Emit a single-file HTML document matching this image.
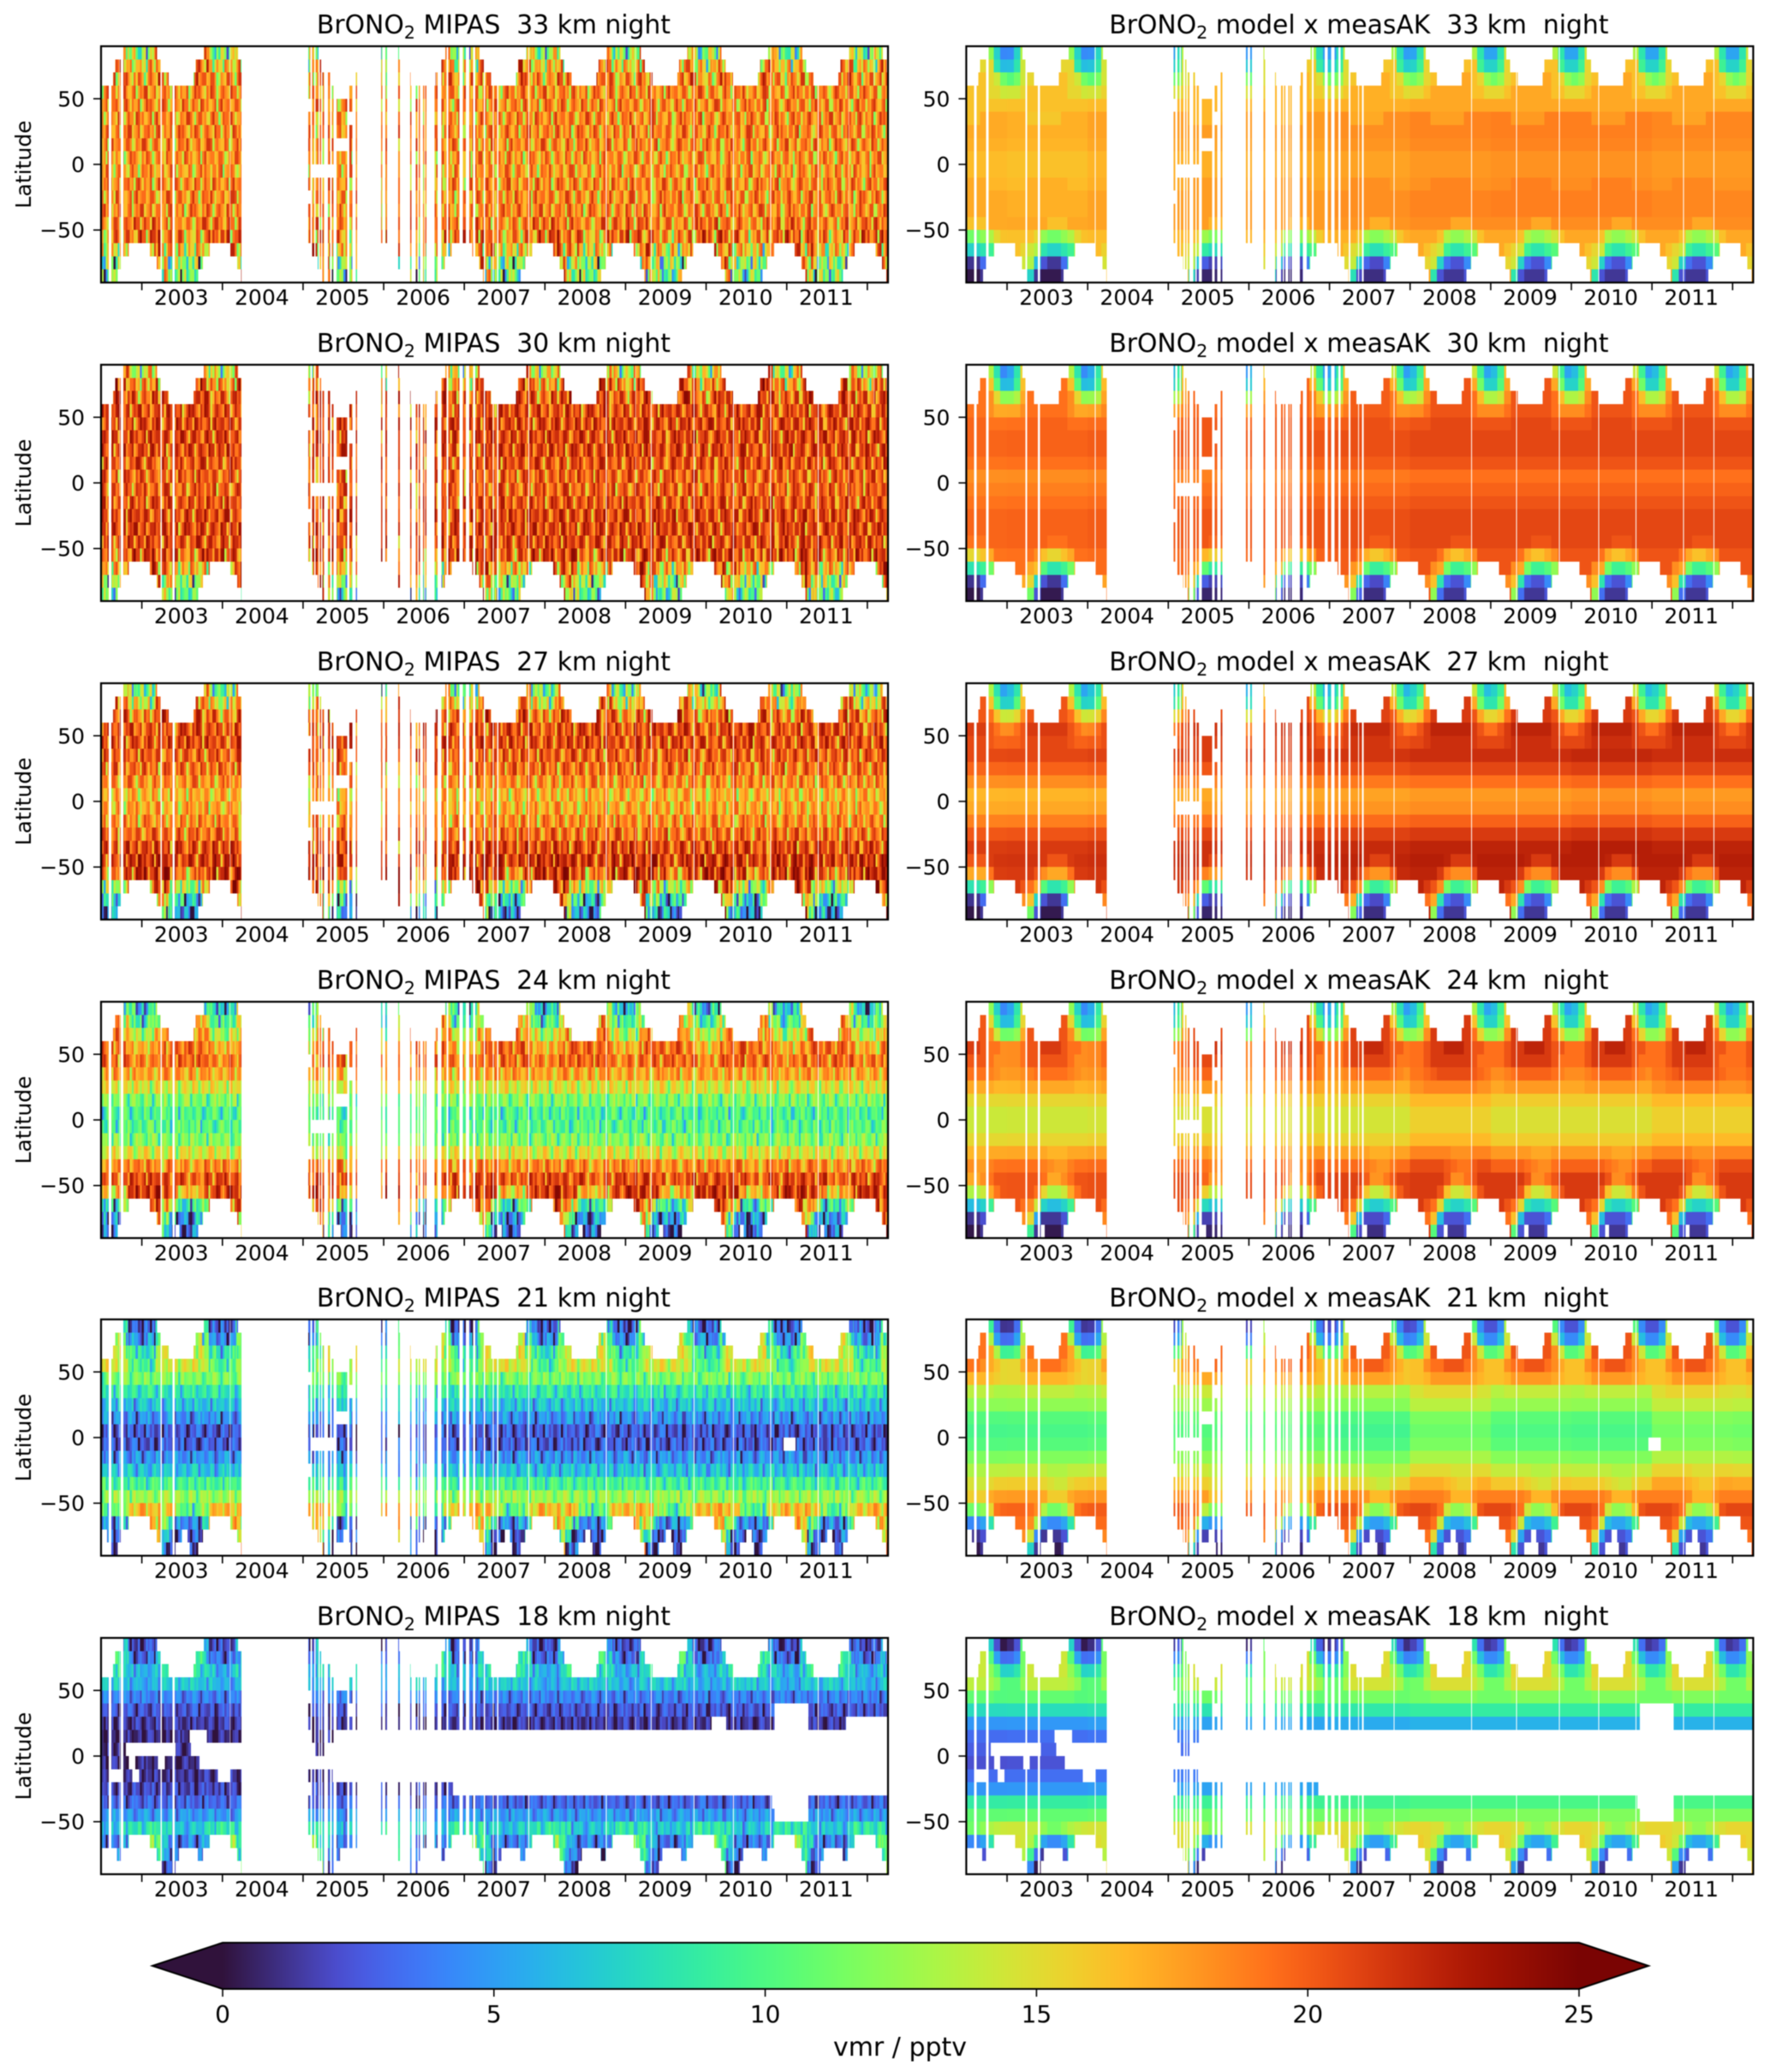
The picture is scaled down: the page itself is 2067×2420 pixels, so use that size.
<!DOCTYPE html>
<html lang="en">
<head>
<meta charset="utf-8">
<title>BrONO2 MIPAS vs model</title>
<style>
html,body{margin:0;padding:0;background:#fff;}
svg{display:block;font-family:"DejaVu Sans","Liberation Sans",sans-serif;fill:#000;filter:blur(0.5px);}
text{white-space:pre;}
.cells{shape-rendering:crispEdges;}
</style>
</head>
<body>
<svg id="figure" xmlns="http://www.w3.org/2000/svg" width="2067" height="2420" viewBox="0 0 2067 2420"></svg>
<script>
const altitudes=[33,30,27,24,21,18];
const yearTicks=[2003,2004,2005,2006,2007,2008,2009,2010,2011,2012];
const yearLabels=[2003,2004,2005,2006,2007,2008,2009,2010,2011];
const latTicks=[50,0,-50];
const colorbarTicks=[0,5,10,15,20,25];
const yearDrift=[-0.8,-0.7,-0.5,-0.3,-0.2,0,0.3,0.3,0.3,0.3,0.3];

/* model tropics (30N-30S band) offset per year 2002..2012, pptv */
const tropicsYear33=[0,-0.3,0,0,0,0.2,0.3,0.5,0.5,0.2,0.2];
const tropicsYear30=[0,0,0,0,0,0,0,0,0,0,0];
const tropicsYear27=[0,0,0,0,0,0,0,0,0.3,0,0];
const tropicsYear24=[0,0,0,0,0,-0.5,0.3,-0.5,-0.5,0.3,0.3];
const tropicsYear21=[0,0,0,0,0,-1,0.3,-0.8,-1,0.6,0.4];
const tropicsYear18=[0,0,0,0,0,0,0,0,0,0,0];

/* measurement periods, decimal years */
const obsSpans=[[2002.495,2002.59],[2002.624,2002.74],[2002.77,2003.23],[2003.25,2003.38],[2003.41,2004.09],[2004.1,2004.235],
[2005.067,2005.089],[2005.113,2005.14],[2005.156,2005.19],[2005.21,2005.226],[2005.24,2005.26],[2005.31,2005.335],[2005.355,2005.38],[2005.415,2005.546],[2005.574,2005.61],[2005.652,2005.67],
[2005.965,2005.986],[2006.018,2006.04],[2006.18,2006.2],[2006.326,2006.344],[2006.40,2006.42],[2006.435,2006.45],[2006.49,2006.505],[2006.515,2006.53],[2006.63,2006.67],[2006.716,2006.78],[2006.80,2006.94],[2006.98,2007.02],[2007.06,2007.11],
[2007.135,2007.24],[2007.26,2007.355],[2007.365,2007.405],[2007.425,2007.795],[2007.805,2008.755],[2008.765,2009.315],[2009.325,2009.845],[2009.855,2010.335],[2010.345,2010.795],[2010.805,2011.385],[2011.395,2011.765],[2011.775,2012.26]];

/* seasonal coverage per latitude row (north to south), fraction of year */
const rowSeason=[[0.77,1.19],[0.67,1.24],[0.64,1.33],null,null,null,null,null,null,null,null,null,null,null,null,[0.10,0.84],[0.18,0.76],[0.23,0.70]];

/* missing cells: [row, from, to] */
const commonGaps=[[9,2005.09,2005.41],[7,2005.415,2005.546],[3,2005.415,2005.546],[5,2005.574,2005.61],[4,2005.06,2005.09],[11,2005.06,2005.09]];
const gaps33=[];
const gaps30=[];
const gaps27=[];
const gaps24=[];
const gaps21=[[9,2010.96,2011.11]];
const gaps18=[[7,2003.59,2003.81],[7,2004.3,2005.1],[7,2005.39,2013],[8,2002.8,2003.42],[8,2003.61,2005.14],[8,2005.3,2013],[9,2002.84,2002.92],[9,2003.2,2003.28],[9,2003.72,2013],[10,2002.59,2002.76],[10,2002.88,2002.97],[10,2003.94,2004.1],[10,2005.37,2013],[11,2006.86,2013],[5,2010.85,2011.27],[6,2010.85,2011.27],[12,2010.82,2011.27],[13,2010.85,2011.27]];
const mipasGaps33=[];
const mipasGaps30=[];
const mipasGaps27=[];
const mipasGaps24=[];
const mipasGaps21=[];
const mipasGaps18=[[6,2010.07,2010.25],[6,2011.73,2013]];
/* seasonal holes in the polar core: [row, fromFraction, toFraction] */
const coreGaps33=[];
const coreGaps30=[];
const coreGaps27=[];
const coreGaps24=[[17,0.42,0.47]];
const coreGaps21=[[17,0.42,0.59],[16,0.5,0.57]];
const coreGaps18=[[17,0.42,0.72],[16,0.46,0.69]];

/* estimated retrieval scatter along time for the MIPAS panels, pptv */
const scatter=[1,2,2,-1,0,3,3,1,-4,-2,2,1,0,4,4,2,-1,-5,1,3,3,0,1,-2,-3,2,4,1,1,-6,-1,3,2,2,0,4,1,-3,0,0,2,3,-2,-1,1,4,4,3,-4,1,2,0,-1,-1,3,2,-5,-3,1,2,4,0,3,1,1,-2,2,2,-1,3,4,-6,0,1,1,3,2,-2,-4,-1,2,4,3,0,1,1,-3,2,3,3,-1,0,-5,2,1,4,2,1,-2,0,3,3,-4,-4,1,2,0,4,3,-1,2,1,-2,-6,1,3,4,0,2,2,-3,1,0,3,4,1,-1,-1,2,3,-5,0,2,1,4,4,-2,0,1,3,-3,-1,2,2,3,0,1,-4,3,4,1,-2,2,0,0,3,-6,-2,1,4,2,3,1,-1,-3,2,0,4,3,1,-5,-1,2,3,1,0,-2,4,2,2,-4,0,3,1,1,-3,4,3,0,2,-1,-1,1,3,-5,2,4,0];
const scatterRowLag=[0,17,41,5,29,61,13,83,37,101,23,71,7,53,97,31,113,47];
const scatterPanelLag=[0,3,7,11,19,29];
const scatterPanelGain=[1,0.9,0.9,0.75,0.6,0.45];
const scatterRowGain=[1.6,1.4,1.2,1,1,1,1,1,1,1,1,1,1,1,1.2,1.5,1.7,1.8];

/* monthly fields, Jan..Dec, rows 80-90N down to 80-90S, pptv */
const mipas33=[
[10,12,15,17,17,17,17,17,17,15,11,9],
[14,15,17,18,18,18,18,18,18,17,15,14],
[16,17,18,18,18,18,18,18,18,18,17,16],
[17.5,17.5,17.5,17.5,17.5,17.5,17.5,17.5,17.5,17.5,17.5,17.5],
[17.5,17.5,17.5,17.5,17.5,17.5,17.5,17.5,17.5,17.5,17.5,17.5],
[17.5,17.5,17.5,17.5,17.5,17.5,17.5,17.5,17.5,17.5,17.5,17.5],
[17.5,17.5,17.5,17.5,17.5,17.5,17.5,17.5,17.5,17.5,17.5,17.5],
[17.5,17.5,17.5,17.5,17.5,17.5,17.5,17.5,17.5,17.5,17.5,17.5],
[17,17,17,17,17,17,17,17,17,17,17,17],
[17,17,17,17,17,17,17,17,17,17,17,17],
[17.5,17.5,17.5,17.5,17.5,17.5,17.5,17.5,17.5,17.5,17.5,17.5],
[17.5,17.5,17.5,17.5,17.5,17.5,17.5,17.5,17.5,17.5,17.5,17.5],
[17.5,17.5,17.5,17.5,17.5,17.5,17.5,17.5,17.5,17.5,17.5,17.5],
[18.5,18.5,18.5,18,18,17,17,17,18,18,18.5,18.5],
[19,19,19,18,18,17,16,16,17,18,18,19],
[18,18,17,17,16,14,14,14,14,15,16,18],
[18,18,16,14,12,10,10,10,10,12,16,18],
[18,18,16,13,10,9,8,9,10,16,18,18]];
const mipas30=[
[12,14,17,19,19,19,19,19,19,17,13,11],
[16,17,19,20,20,20,20,20,20,19,17,16],
[18,19,20,20,20,20,20,20,20,20,19,18],
[19.5,19.5,19.5,20,20,20,20,20,20,20,19.5,19.5],
[20,20,20,20,20,20,20,20,20,20,20,20],
[20,20,20,20,20,20,20,20,20,20,20,20],
[20,20,20,20,20,20,20,20,20,20,20,20],
[19.5,19.5,19.5,19.5,19.5,19.5,19.5,19.5,19.5,19.5,19.5,19.5],
[19,19,19,19,19,19,19,19,19,19,19,19],
[19,19,19,19,19,19,19,19,19,19,19,19],
[19.5,19.5,19.5,19.5,19.5,19.5,19.5,19.5,19.5,19.5,19.5,19.5],
[20,20,20,20,20,20,20,20,20,20,20,20],
[20,20,20,20,20,20,20,20,20,20,20,20],
[20,20,20,20,20,20,19.5,19.5,20,20,20,20],
[20,20,20,20,20,19,18,18,19,20,20,20],
[19,19,19,18,17,15,15,15,15,16,18,19],
[19,19,18,16,13,11,10,10,11,14,19,19],
[19,19,19,14,10,8,8,8,9,19,19,19]];
const mipas27=[
[9,11,16,18,18,18,18,18,18,15,11,8],
[13,14,17,19,19,19,19,19,19,17,14,13],
[17,18,19,20,20,20,20,20,20,19,18,17],
[19,19.5,19.5,20,20,20,20,20,20,19.5,19.5,19],
[19.5,19.5,20,20,20,20,20,20,20,20,19.5,19.5],
[19,19,19,19,19,19,19,19,19,19,19,19],
[18.5,18.5,18.5,18.5,18.5,18.5,18.5,18.5,18.5,18.5,18.5,18.5],
[17.5,17.5,17.5,17.5,17.5,17.5,17.5,17.5,17.5,17.5,17.5,17.5],
[16,16,16,16,16,16,16,16,16,16,16,16],
[16.5,16.5,16.5,16.5,16.5,16.5,16.5,16.5,16.5,16.5,16.5,16.5],
[17.5,17.5,17.5,17.5,17.5,17.5,17.5,17.5,17.5,17.5,17.5,17.5],
[18.5,18.5,18.5,18.5,18.5,18.5,18.5,18.5,18.5,18.5,18.5,18.5],
[20,20,20,20,20,20,19.5,19.5,19.5,20,20,20],
[21,21,21,21,21,21,20,20,20,21,21,21],
[21,21,21,21,20.5,19,17,17,18,19,20.5,21],
[20,20,19,18,15,12,11,11,12,14,18,20],
[20,20,17,13,8,6,5,5,7,11,20,20],
[20,20,20,9,4,3,2,2,4,20,20,20]];
const mipas24=[
[5,7,12,16,16,16,16,16,16,11,7,4],
[8,9,13,17,17,17,17,17,17,14,10,8],
[12,13,16,18,18,18,18,18,18,16,14,12],
[16,16,18,19,19,19,19,19,19,18,17,16],
[18,18,19,19,19,19,19,19,19,19,18,18],
[16.5,16.5,17,17,17,17,17,17,17,17,16.5,16.5],
[14,14,14,14,14,14,14,14,14,14,14,14],
[11,11,11,11,11,11,11,11,11,11,11,11],
[9,9,9,9,9,9,9,9,9,9,9,9],
[9.5,9.5,9.5,9.5,9.5,9.5,9.5,9.5,9.5,9.5,9.5,9.5],
[11,11,11,11,11,11,11,11,11,11,11,11],
[14,14,14,14,14,14,14,14,14,14,14,14],
[18,18,18,18,18,18,17,17,17,18,18,18],
[20,20,20,20,20,20,19,19,19,20,20,20],
[21,21,21,21,20,17,15,15,16,18,20,21],
[20,20,19,17,13,8,7,7,8,11,18,20],
[20,20,17,11,5,3,3,3,4,8,20,20],
[20,20,20,6,2,1,1,1,2,20,20,20]];
const mipas21=[
[1,2,8,12,12,12,12,12,12,7,2,1],
[3,4,9,13,13,13,13,13,13,9,4,3],
[7,8,11,14,14,14,14,14,14,12,9,7],
[9,9,12,14,14,14,14,14,14,13,10,9],
[11,11,11,11,11,11,11,11,11,11,11,11],
[8,8,8,8,8,8,8,8,8,8,8,8],
[6,6,6,6,6,6,6,6,6,6,6,6],
[4,4,4,4,4,4,4,4,4,4,4,4],
[2,2,2,2,2,2,2,2,2,2,2,2],
[2,2,2,2,2,2,2,2,2,2,2,2],
[4,4,4,4,4,4,4,4,4,4,4,4],
[6,6,6,6,6,6,6,6,6,6,6,6],
[9,9,9,9,9,9,9,9,9,9,9,9],
[12,12,12,12,12,12,12,12,12,12,12,12],
[16,16,16,16,15,11,9,9,10,13,15,16],
[16,16,15,12,7,3,3,3,4,7,14,16],
[16,16,13,6,2,1,1,1,2,5,16,16],
[16,16,16,3,1,0.5,0.5,0.5,1,16,16,16]];
const mipas18=[
[1,1.5,5,8,8,8,8,8,8,5,1.5,1],
[2,2.5,6,9,9,9,9,9,9,7,3,2],
[5,5,7,8,8,8,8,8,8,7,6,5],
[5,5,6,6.5,6.5,6.5,6.5,6.5,6.5,6,6,5],
[3.5,3.5,3.5,3.5,3.5,3.5,3.5,3.5,3.5,3.5,3.5,3.5],
[2,2,2,2,2,2,2,2,2,2,2,2],
[1,1,1,1,1,1,1,1,1,1,1,1],
[0.5,0.5,0.5,0.5,0.5,0.5,0.5,0.5,0.5,0.5,0.5,0.5],
[0.5,0.5,0.5,0.5,0.5,0.5,0.5,0.5,0.5,0.5,0.5,0.5],
[0.5,0.5,0.5,0.5,0.5,0.5,0.5,0.5,0.5,0.5,0.5,0.5],
[0.8,0.8,0.8,0.8,0.8,0.8,0.8,0.8,0.8,0.8,0.8,0.8],
[1.5,1.5,1.5,1.5,1.5,1.5,1.5,1.5,1.5,1.5,1.5,1.5],
[2.5,2.5,2.5,2.5,2.5,2.5,2.5,2.5,2.5,2.5,2.5,2.5],
[4.5,4.5,4.5,4.5,4.5,4.5,4.5,4.5,4.5,4.5,4.5,4.5],
[8,8,8,7,6.5,6,6,6,6,7,8,8],
[14,12,9,6,3.5,3,3,3,3,5,9,13],
[10,10,8,5,3,2.5,2.5,2.5,3,5,10,10],
[10,10,10,2,1,1,1,1,1,10,10,10]];

const model33=[
[5,8,14,16,16,16,16,16,16,13,8,5],
[7,9,15,16,16,16,16,16,16,16,9,7],
[11,12,15,16,17,17,17,17,17,16,15,12],
[15,15,16,17,17,17,17,17,17,16,16,15],
[17,17,17,17,17,17,17,17,17,17,17,17],
[18,18,18,17,17,17,17,17,18,18,18,18],
[18,18,18,18,18,18,18,18,18,18,18,18],
[17.8,17.8,17.8,17.8,17.8,17.8,17.8,17.8,17.8,17.8,17.8,17.8],
[17.3,17.3,17.3,17.3,17.3,17.3,17.3,17.3,17.3,17.3,17.3,17.3],
[17.3,17.3,17.3,17.3,17.3,17.3,17.3,17.3,17.3,17.3,17.3,17.3],
[17.5,17.5,17.5,18,18,18,18,18,18,17.5,17.5,17.5],
[18,18,18,18,18,18,18,18,18,18,18,18],
[18,18,18,18,18,18,18,18,18,18,18,18],
[18,18,18,18,18,18,17,17,17,18,18,18],
[17,17,17,17,16,13,12,12,13,14,16,17],
[17,17,16,15,14,9,8,8,9,10,14,17],
[17,17,15,14,7,3,2,2,4,9,17,17],
[17,17,17,8,2,1,1,1,2,17,17,17]];
const model30=[
[6,9,16,19,19,19,19,19,19,14,9,5],
[7,10,17,20,20,20,20,20,20,17,11,7],
[13,14,18,20,20,20,20,20,20,19,16,13],
[18,18,19,20,20,20,20,20,20,19,18,18],
[20,20,20,20.5,20.5,20.5,20.5,20.5,20.5,20,20,20],
[20.5,20.5,20.5,20.5,20.5,20.5,20.5,20.5,20.5,20.5,20.5,20.5],
[20.5,20.5,20.5,20.5,20.5,20.5,20.5,20.5,20.5,20.5,20.5,20.5],
[20,20,20,20,20,20,20,20,20,20,20,20],
[19,19,19,19,19,19,19,19,19,19,19,19],
[19.5,19.5,19.5,19.5,19.5,19.5,19.5,19.5,19.5,19.5,19.5,19.5],
[20,20,20,20,20,20,20,20,20,20,20,20],
[20.5,20.5,20.5,20.5,20.5,20.5,20.5,20.5,20.5,20.5,20.5,20.5],
[20.5,20.5,20.5,20.5,20.5,20.5,20.5,20.5,20.5,20.5,20.5,20.5],
[20.5,20.5,20.5,20.5,20.5,20.5,20,20,20,20.5,20.5,20.5],
[20,20,20,20,19,17,16,16,17,18,20,20],
[20,20,20,18,17,11,9,9,10,12,17,20],
[20,20,18,16,8,3,2,2,4,10,20,20],
[20,20,20,12,3,1,1,1,2,20,20,20]];
const model27=[
[7,9,16,20,20,20,20,20,20,14,9,6],
[8,11,17,21,21,21,21,21,21,17,11,8],
[15,16,19,21,21,21,21,21,21,20,17,15],
[19,20,21,22,22,22,22,22,22,21,20,19],
[20.5,20.5,21,21.5,21.5,21.5,21.5,21.5,21.5,21,20.5,20.5],
[21.5,21.5,21.5,21.5,21.5,21.5,21.5,21.5,21.5,21.5,21.5,21.5],
[20.5,20.5,20.5,20.5,20.5,20.5,20.5,20.5,20.5,20.5,20.5,20.5],
[19,19,19,19,19,19,19,19,19,19,19,19],
[17.5,17.5,17.5,17.5,17.5,17.5,17.5,17.5,17.5,17.5,17.5,17.5],
[18,18,18,18,18,18,18,18,18,18,18,18],
[19.5,19.5,19.5,19.5,19.5,19.5,19.5,19.5,19.5,19.5,19.5,19.5],
[21,21,21,21,21,21,21,21,21,21,21,21],
[22,22,22,22,22,22,22,22,22,22,22,22],
[22.3,22.3,22.3,22.3,22.3,22,21,21,21,22,22.3,22.3],
[22,22,22,22,21,19,18,18,18,20,22,22],
[22,22,21,20,18,11,9,9,10,13,19,22],
[22,22,19,17,8,3,2,2,4,10,22,22],
[22,22,22,12,3,1,1,1,2,22,22,22]];
const model24=[
[6,9,15,20,20,20,20,20,20,13,8,5],
[7,10,16,21,21,21,21,21,21,16,10,7],
[12,13,18,21,21,21,21,21,21,19,15,12],
[19,19,20,21,21,22,22,22,21,20,20,19],
[19,19,20,21,21,21,21,21,21,20,19,19],
[18.5,18.5,19,19.5,20,20,20,20,20,19.5,19,18.5],
[17.5,17.5,18,18,18,18,18,18,18,18,17.5,17.5],
[16,16,16,16,16,16,16,16,16,16,16,16],
[15,15,15,15,15,15,15,15,15,15,15,15],
[15,15,15,15,15,15,15,15,15,15,15,15],
[16,16,16,16,16,16,16,16,16,16,16,16],
[18,18,18,18,18,18,17.5,17.5,17.5,18,18,18],
[20,20,20,20,20,19.5,19,18.5,18.5,19.5,20,20],
[21,21,21,21,21,20,18,18,19,20,21,21],
[21,21,21,21,20,16,14,14,15,18,20,21],
[21,21,20,19,15,8,7,7,8,10,18,21],
[21,21,19,16,6,2,2,2,3,9,21,21],
[21,21,21,10,2,1,1,1,2,21,21,21]];
const model21=[
[2,4,13,19,19,19,19,19,19,10,4,2],
[4,6,14,20,20,20,20,20,20,14,6,4],
[10,11,16,20,20,20,20,20,20,18,14,10],
[16,16,18,19,19,20,20,20,19,18,17,16],
[16,16,16.5,17.5,17.5,17.5,17.5,17.5,17.5,17,16.5,16],
[14,14,14.5,14.5,14.5,14.5,14.5,14.5,14.5,14.5,14,14],
[13,13,13,13,13,13,13,13,13,13,13,13],
[11,11,11,11,11,11,11,11,11,11,11,11],
[10.5,10.5,10.5,10.5,10.5,10.5,10.5,10.5,10.5,10.5,10.5,10.5],
[11,11,11,11,11,11,11,11,11,11,11,11],
[12.5,12.5,12.5,12.5,12.5,12.5,12.5,12.5,12.5,12.5,12.5,12.5],
[14.5,14.5,14.5,14.5,14.5,14.5,14,14,14,14.5,14.5,14.5],
[16.5,16.5,16.5,16.5,16.5,16,15.5,15,15,16,16.5,16.5],
[18.5,18.5,18.5,18.5,18.5,18,16.5,16.5,16.5,18,18.5,18.5],
[20.5,20.5,20.5,20,19,14,12,12,13,16,20,20.5],
[20,20,20,19,14,6,5,5,6,9,16,20],
[20,20,19,15,5,2,2,2,3,8,20,20],
[20,20,20,8,2,1,1,1,2,20,20,20]];
const model18=[
[1.5,3,11,15,15,15,15,15,15,8,3,1],
[4,5,12,15,15,15,15,15,15,11,6,4],
[8,9,12,15,15,15,15,15,15,13,11,8],
[11,11,13,14.5,14.5,14.5,14.5,14.5,14.5,14,13,11],
[11,11,11,11.5,11.5,11.5,11.5,11.5,11.5,11.5,11,11],
[8.5,8.5,8.5,8.5,8.5,8.5,8.5,8.5,8.5,8.5,8.5,8.5],
[5.5,5.5,5.5,5.5,5.5,5.5,5.5,5.5,5.5,5.5,5.5,5.5],
[4,4,4,4,4,4,4,4,4,4,4,4],
[3.5,3.5,3.5,3.5,3.5,3.5,3.5,3.5,3.5,3.5,3.5,3.5],
[3,3,3,3,3,3,3,3,3,3,3,3],
[4,4,4,4,4,4,4,4,4,4,4,4],
[5.5,5.5,5.5,5.5,5.5,5.5,5.5,5.5,5.5,5.5,5.5,5.5],
[9.5,9.5,9.5,9.5,9.5,9.5,9.5,9.5,9.5,9.5,9.5,9.5],
[11.5,11.5,11.5,11.5,11.5,11.5,11.5,11.5,11.5,11.5,11.5,11.5],
[15,15,15,14.5,14.5,13,12,12,13,14,14.5,15],
[15.5,15.5,15,14,11,6,5,5,6,9,14,15.5],
[16,16,14,10,4,2,2,2,3,7,16,16],
[16,16,16,5,1,1,1,1,2,16,16,16]];

const mipasFields=[mipas33,mipas30,mipas27,mipas24,mipas21,mipas18];
const modelFields=[model33,model30,model27,model24,model21,model18];
const altGaps=[gaps33,gaps30,gaps27,gaps24,gaps21,gaps18];
const mipasAltGaps=[mipasGaps33,mipasGaps30,mipasGaps27,mipasGaps24,mipasGaps21,mipasGaps18];
const altCoreGaps=[coreGaps33,coreGaps30,coreGaps27,coreGaps24,coreGaps21,coreGaps18];
const tropicsYear=[tropicsYear33,tropicsYear30,tropicsYear27,tropicsYear24,tropicsYear21,tropicsYear18];

const SVGNS='http://www.w3.org/2000/svg';
const root=document.getElementById('figure');
const T0=2002.494,T1=2012.256,PANEL_W=919,PANEL_H=276;
const ROW_TOPS=[54,426,798,1170,1541,1913];
const PANEL_LEFT=[118,1128.4];

function make(tag,attrs,parent){
  const el=document.createElementNS(SVGNS,tag);
  for(const k in attrs){el.setAttribute(k,attrs[k]);}
  parent.appendChild(el);
  return el;
}
function turboPoly(t){
  const poly=c=>c[0]+t*(c[1]+t*(c[2]+t*(c[3]+t*(c[4]+t*c[5]))));
  return [poly([0.13572138,4.6153926,-42.66032258,132.13108234,-152.94239396,59.28637943]),
          poly([0.09140261,2.19418839,4.84296658,-14.18503333,4.27729857,2.82956604]),
          poly([0.1066733,12.64194608,-60.58204836,110.36276771,-89.90310912,27.34824973])];
}
function turbo(t){
  t=Math.max(0,Math.min(1,t));
  let rgb;
  if(t<0.08){
    const end=turboPoly(0.08),start=[48/255,18/255,59/255],k=t/0.08;
    rgb=start.map((s,i)=>s+(end[i]-s)*k);
  }else if(t>0.93){
    const end=[122/255,4/255,3/255],start=turboPoly(0.93),k=(t-0.93)/0.07;
    rgb=start.map((s,i)=>s+(end[i]-s)*k);
  }else{
    rgb=turboPoly(t);
  }
  const c=v=>Math.max(0,Math.min(255,Math.round(v*255)));
  return 'rgb('+c(rgb[0])+','+c(rgb[1])+','+c(rgb[2])+')';
}
function xScale(left,t){return left+(t-T0)/(T1-T0)*PANEL_W;}
function yScale(top,lat){return top+(90-lat)/180*PANEL_H;}
function cbX(v){return 260+v*63.36;}
function inSeason(row,t){
  const w=rowSeason[row];
  if(!w)return true;
  const f=t-Math.floor(t);
  return (f>=w[0]&&f<w[1])||(f+1>=w[0]&&f+1<w[1]);
}
function isGap(side,a,row,t){
  const f=t-Math.floor(t);
  for(const g of commonGaps){if(g[0]===row&&t>=g[1]&&t<g[2])return true;}
  for(const g of altGaps[a]){if(g[0]===row&&t>=g[1]&&t<g[2])return true;}
  if(side===0){for(const g of mipasAltGaps[a]){if(g[0]===row&&t>=g[1]&&t<g[2])return true;}}
  for(const g of altCoreGaps[a]){if(g[0]===row&&f>=g[1]&&f<g[2])return true;}
  return false;
}
function cellValue(side,a,row,t){
  const year=Math.floor(t);
  const month=Math.min(11,Math.floor((t-year)*12));
  if(side===0){
    const bin=Math.floor(t*40);
    const s=scatter[(bin+scatterRowLag[row]+scatterPanelLag[a])%scatter.length];
    return Math.max(0,mipasFields[a][row][month]+s*scatterPanelGain[a]*scatterRowGain[row]);
  }
  const tropics=(row>=5&&row<=12)?tropicsYear[a][year-2002]:0;
  return Math.max(0,modelFields[a][row][month]+yearDrift[year-2002]+tropics);
}
function drawCells(side,a,left,top,parent){
  const STEP=1/120;
  for(let row=0;row<18;row++){
    const latTop=90-row*10,latBot=latTop-10;
    const yT=yScale(top,latTop),yB=yScale(top,latBot);
    let run=null;
    const flush=()=>{
      if(!run)return;
      const x0=xScale(left,run.t0),x1=xScale(left,run.t1);
      const cell=make('rect',{x:x0.toFixed(2),y:yT.toFixed(2),width:(x1-x0).toFixed(2),height:(yB-yT).toFixed(2),fill:turbo(run.v/25)},parent);
      
      
      run=null;
    };
    for(const span of obsSpans){
      let t=span[0];
      while(t<span[1]-1e-6){
        const next=Math.min(span[1],(Math.floor(t/STEP+1e-6)+1)*STEP);
        const mid=(t+next)/2;
        if(inSeason(row,mid)&&!isGap(side,a,row,mid)){
          const v=cellValue(side,a,row,mid);
          if(run&&run.v===v&&Math.abs(run.t1-t)<1e-6){run.t1=next;}
          else{flush();run={t0:t,t1:next,v:v};}
        }else{flush();}
        t=next;
      }
      flush();
    }
  }
}
function addText(str,x,y,size,anchor,parent){
  const el=make('text',{x:x,y:y,'font-size':size,'text-anchor':anchor},parent);
  el.textContent=str;
  return el;
}
function drawTitle(side,a,cx,top,parent){
  const t=make('text',{x:cx,y:top-15,'font-size':29.8,'text-anchor':'middle'},parent);
  
  
  const s1=make('tspan',{},t);
  s1.textContent='BrONO';
  const s2=make('tspan',{dy:6,'font-size':20.8},t);
  s2.textContent='2';
  const s3=make('tspan',{dy:-6},t);
  s3.textContent=side===0?' MIPAS  '+altitudes[a]+' km night':' model x measAK  '+altitudes[a]+' km  night';
}
function drawPanel(side,a){
  const left=PANEL_LEFT[side],top=ROW_TOPS[a];
  const g=make('g',{},root);
  
  
  const cells=make('g',{class:'cells'},g);
  
  
  drawCells(side,a,left,top,cells);
  const frame=make('rect',{x:left,y:top,width:PANEL_W,height:PANEL_H,fill:'none',stroke:'#000','stroke-width':2.2},g);
  
  
  for(const yr of yearTicks){
    const x=xScale(left,yr);
    const tick=make('line',{x1:x,x2:x,y1:top+PANEL_H,y2:top+PANEL_H+9,stroke:'#000','stroke-width':1.6},g);
    
    
  }
  for(const yr of yearLabels){
    const lab=addText(String(yr),xScale(left,yr+0.5)-1,top+PANEL_H+26,25,'middle',g);
    
    
  }
  for(const lat of latTicks){
    const y=yScale(top,lat);
    const tick=make('line',{x1:left-9,x2:left,y1:y,y2:y,stroke:'#000','stroke-width':1.6},g);
    
    
    const lab=addText(String(lat).replace('-','\u2212'),left-19,y+9,25,'end',g);
    
    
  }
  if(side===0){
    const yl=make('text',{x:0,y:0,'font-size':25,'text-anchor':'middle',transform:'translate(36,'+(top+PANEL_H/2)+') rotate(-90)'},g);
    yl.textContent='Latitude';
    
    
  }
  drawTitle(side,a,left+PANEL_W/2-1,top,g);
}
function drawColorbar(){
  const g=make('g',{},root);
  
  
  const top=2269,bot=2323,mid=(top+bot)/2;
  const defs=make('defs',{},g);
  const grad=make('linearGradient',{id:'cbGrad',x1:0,x2:1,y1:0,y2:0},defs);
  for(let i=0;i<=48;i++){
    make('stop',{offset:(i/48).toFixed(4),'stop-color':turbo(i/48)},grad);
  }
  const body=make('rect',{x:cbX(0),y:top,width:cbX(25)-cbX(0),height:bot-top,fill:'url(#cbGrad)'},g);
  
  
  const lowTip=make('polygon',{points:cbX(0)+','+top+' 178,'+mid+' '+cbX(0)+','+bot,fill:turbo(0)},g);
  
  
  const highTip=make('polygon',{points:cbX(25)+','+top+' 1925,'+mid+' '+cbX(25)+','+bot,fill:turbo(1)},g);
  
  
  const outline=make('polygon',{points:cbX(0)+','+top+' '+cbX(25)+','+top+' 1925,'+mid+' '+cbX(25)+','+bot+' '+cbX(0)+','+bot+' 178,'+mid,fill:'none',stroke:'#000','stroke-width':2},g);
  
  
  for(const v of colorbarTicks){
    const tick=make('line',{x1:cbX(v),x2:cbX(v),y1:bot,y2:bot+9,stroke:'#000','stroke-width':1.6},g);
    
    
    const lab=addText(String(v),cbX(v),2362,28,'middle',g);
    
    
  }
  const title=addText('vmr / pptv',1051,2401,30,'middle',g);
  
  
}
for(let a=0;a<altitudes.length;a++){
  drawPanel(0,a);
  drawPanel(1,a);
}
drawColorbar();
</script>
</body>
</html>
